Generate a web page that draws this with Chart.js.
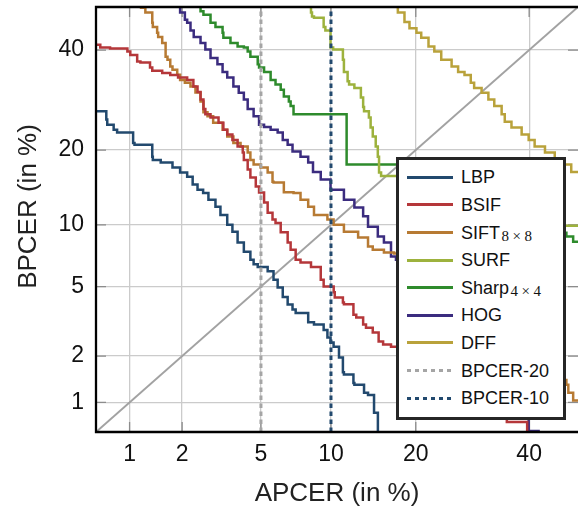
<!DOCTYPE html>
<html>
<head>
<meta charset="utf-8">
<script src="https://cdn.jsdelivr.net/npm/chart.js@4.4.1/dist/chart.umd.min.js"></script>
<style>
  html, body { margin: 0; padding: 0; background: #fff; }
  #wrap { position: relative; width: 578px; height: 512px; overflow: hidden; }
  canvas { display: block; }
  #legend { position: absolute; left: 396px; top: 157px; width: 170px; height: 263px; box-sizing: border-box;
            border: 3px solid #262626; background: #fff; font-family: "Liberation Sans", Arial, sans-serif;
            font-size: 18px; color: #111; }
  .sw { position: absolute; left: 8px; width: 46px; height: 3px; }
  .lbl { position: absolute; left: 62px; height: 20px; line-height: 20px; white-space: nowrap; }
  .sub { font-family: "Liberation Serif", "DejaVu Serif", serif; font-size: 15px; position: relative; top: 2.5px; margin-left: 1.5px; }
  .op { margin: 0 3.5px; }
</style>
</head>
<body>
<div id="wrap">
  <canvas id="c" width="578" height="512"></canvas>
  <div id="legend"></div>
</div>
<script>
// ---------------- data (values in %) ----------------
const AXIS_MIN = 0.62;
const AXIS_MAX = 50;
const TICKS = [1, 2, 5, 10, 20, 40];

// [APCER, BPCER] pairs
const LBP = [[0.6,27.2],[0.72,27.0],[0.73,25.4],[0.80,24.4],[0.84,23.5],[0.91,23.0],[1.05,23.0],[1.07,21.2],[1.36,20.9],[1.37,18.9],[1.52,18.4],[1.77,18.0],[1.95,17.25],[2.13,16.5],[2.28,15.9],[2.42,14.8],[2.59,14.1],[2.76,13.7],[3.0,12.85],[3.18,12.0],[3.44,11.05],[3.65,10.0],[3.87,9.3],[4.15,8.3],[4.46,7.5],[4.62,6.85],[4.83,6.5],[5.37,6.3],[5.71,6.0],[5.96,5.43],[6.28,4.95],[6.6,4.4],[6.93,4.0],[7.15,3.75],[8.08,3.59],[8.54,3.18],[9.35,3.09],[9.68,2.87],[9.96,2.59],[10.24,2.42],[10.75,2.28],[11.13,1.96],[11.23,1.58],[12.2,1.53],[12.3,1.35],[13.35,1.31],[13.8,1.16],[14.5,1.12],[14.96,0.85],[15.2,0.55]];
const BSIF = [[0.6,41.6],[0.66,41.2],[0.76,40.6],[0.97,40.35],[1.01,39.7],[1.11,38.9],[1.16,37.4],[1.32,37.2],[1.36,36.1],[1.55,35.4],[1.72,34.9],[1.9,34.46],[2.13,33.9],[2.30,33.4],[2.42,32.0],[2.51,30.85],[2.6,29.3],[2.66,27.4],[2.83,26.4],[3.11,25.8],[3.29,24.8],[3.44,23.5],[3.65,22.66],[3.87,21.7],[4.1,20.6],[4.15,19.6],[4.33,18.4],[4.46,16.95],[4.73,15.8],[4.9,14.55],[5.17,13.75],[5.37,12.5],[5.65,11.3],[5.83,10.57],[6.15,10.2],[6.6,9.25],[6.8,8.3],[7.15,7.67],[7.5,6.85],[8.3,6.63],[9.1,6.3],[9.35,5.43],[10.25,5.0],[10.35,4.67],[11.13,4.37],[11.23,4.1],[12.2,4.01],[12.5,3.51],[13.25,3.39],[13.57,3.09],[14.35,2.96],[15.05,2.77],[15.6,2.45],[16.6,2.35],[17.8,2.28],[35.6,0.80],[35.6,0.73],[39.6,0.73],[39.6,0.55]];
const SIFT = [[1.17,51],[1.24,49.8],[1.36,48.7],[1.37,46.3],[1.45,45.3],[1.47,44.0],[1.55,43.0],[1.62,41.6],[1.66,38.5],[1.72,37.8],[1.77,36.3],[1.88,35.6],[1.95,34.5],[2.07,33.4],[2.22,32.8],[2.36,32.0],[2.51,30.75],[2.6,28.9],[2.73,26.8],[2.92,26.0],[3.26,24.8],[3.44,23.5],[3.69,22.3],[4.0,21.2],[4.33,20.6],[4.46,19.6],[4.62,18.4],[4.98,17.7],[5.37,17.25],[5.65,16.5],[5.71,15.2],[6.35,15.1],[7.0,13.8],[7.5,13.7],[8.08,12.85],[8.54,12.0],[9.68,11.05],[10.24,10.57],[11.23,10.0],[12.7,9.3],[13.8,8.75],[14.35,7.95],[15.7,7.67],[17.0,7.43],[17.8,7.35],[47.6,1.41],[48.0,1.31],[49.0,1.16],[49.6,1.03],[51,1.03]];
const SURF = [[8.3,51],[8.38,48.7],[8.54,47.8],[9.35,47.5],[9.5,45.3],[9.96,44.5],[10.2,40.6],[11.13,40.1],[11.23,37.8],[11.6,35.1],[11.75,33.1],[12.3,32.4],[13.0,31.7],[13.25,29.7],[13.35,27.8],[13.9,27.0],[14.1,25.8],[14.35,23.9],[14.7,22.3],[14.95,20.6],[15.1,18.9],[15.35,16.5],[15.7,16.0],[17.8,16.0],[47.4,9.9],[50.5,9.9]];
const SHARP = [[2.51,51],[2.6,49.0],[2.83,48.2],[3.0,46.3],[3.26,45.3],[3.29,44.0],[3.57,42.8],[3.87,41.6],[4.15,40.8],[4.33,40.6],[4.46,39.7],[4.83,38.5],[4.9,36.8],[5.17,36.1],[5.54,35.1],[5.83,33.4],[6.15,32.4],[6.35,31.3],[6.68,29.9],[6.8,28.9],[7.0,28.0],[7.0,26.4],[11.5,26.4],[11.5,17.7],[17.8,17.7],[47.6,9.2],[49.0,8.85],[50.3,8.35]];
const HOG = [[1.95,51],[2.07,48.7],[2.13,47.0],[2.22,46.3],[2.31,44.5],[2.51,43.0],[2.66,41.6],[2.83,40.1],[3.07,38.2],[3.26,36.8],[3.44,35.1],[3.69,33.9],[3.92,32.0],[4.15,30.7],[4.33,29.3],[4.62,27.4],[4.9,26.0],[5.17,24.4],[5.54,24.0],[5.96,23.5],[6.28,23.0],[6.6,21.7],[6.93,20.9],[7.5,19.77],[8.08,18.9],[8.46,18.0],[9.1,16.6],[9.96,15.5],[11.23,14.1],[12.3,12.85],[13.25,11.9],[13.8,10.9],[14.95,9.8],[15.7,8.85],[16.6,8.3],[17.25,7.1],[17.8,6.85],[39.9,0.80],[39.9,0.63],[41.9,0.63],[41.9,0.5]];
const DFF = [[17.5,51],[18.4,48.7],[19.1,46.5],[20.1,45.0],[20.8,44.0],[21.9,42.8],[22.8,40.8],[23.9,39.7],[25.6,37.8],[26.7,36.3],[27.8,35.1],[28.9,34.46],[29.5,32.8],[30.85,31.7],[32.1,30.7],[33.2,29.3],[34.6,28.0],[35.2,26.4],[36.5,25.0],[38.5,23.9],[39.9,22.66],[41.1,21.7],[43.2,20.6],[45.2,19.6],[47.2,18.4],[48.6,17.7],[50.4,16.6]];
const BPCER20_APCER = 5;
const BPCER10_APCER = 10;

// ---------------- probit (normal deviate) scale ----------------
function probit(p) {
  const a = [-3.969683028665376e+01, 2.209460984245205e+02, -2.759285104469687e+02, 1.383577518672690e+02, -3.066479806614716e+01, 2.506628277459239e+00];
  const b = [-5.447609879822406e+01, 1.615858368580409e+02, -1.556989798598866e+02, 6.680131188771972e+01, -1.328068155288572e+01];
  const c = [-7.784894002430293e-03, -3.223964580411365e-01, -2.400758277161838e+00, -2.549732539343734e+00, 4.374664141464968e+00, 2.938163982698783e+00];
  const d = [7.784695709041462e-03, 3.224671290700398e-01, 2.445134137142996e+00, 3.754408661907416e+00];
  const pl = 0.02425, ph = 1 - pl;
  let q, r;
  if (p < pl) {
    q = Math.sqrt(-2 * Math.log(p));
    return (((((c[0]*q+c[1])*q+c[2])*q+c[3])*q+c[4])*q+c[5]) / ((((d[0]*q+d[1])*q+d[2])*q+d[3])*q+1);
  }
  if (p <= ph) {
    q = p - 0.5; r = q * q;
    return (((((a[0]*r+a[1])*r+a[2])*r+a[3])*r+a[4])*r+a[5])*q / (((((b[0]*r+b[1])*r+b[2])*r+b[3])*r+b[4])*r+1);
  }
  q = Math.sqrt(-2 * Math.log(1 - p));
  return -(((((c[0]*q+c[1])*q+c[2])*q+c[3])*q+c[4])*q+c[5]) / ((((d[0]*q+d[1])*q+d[2])*q+d[3])*q+1);
}
function normCdf(z) {
  const x = Math.abs(z) / Math.SQRT2;
  const t = 1 / (1 + 0.3275911 * x);
  const e = 1 - (((((1.061405429*t - 1.453152027)*t) + 1.421413741)*t - 0.284496736)*t + 0.254829592)*t*Math.exp(-x*x);
  return z >= 0 ? 0.5 * (1 + e) : 0.5 * (1 - e);
}

class ProbitScale extends Chart.Scale {
  static id = 'probit';
  static defaults = {};
  determineDataLimits() { this.min = this.options.min; this.max = this.options.max; }
  buildTicks() { return TICKS.map(v => ({ value: v })); }
  configure() {
    super.configure();
    this._zMin = probit(this.min / 100);
    this._zMax = probit(this.max / 100);
  }
  getLabelForValue(v) { return String(v); }
  getPixelForValue(v) {
    if (v === null || v === undefined || isNaN(v)) return NaN;
    const p = Math.min(Math.max(v / 100, 1e-9), 1 - 1e-9);
    return this.getPixelForDecimal((probit(p) - this._zMin) / (this._zMax - this._zMin));
  }
  getValueForPixel(px) {
    return 100 * normCdf(this._zMin + this.getDecimalForPixel(px) * (this._zMax - this._zMin));
  }
  drawTitle() {
    const s = this.options.titleShift || 0;
    this.ctx.save();
    this.ctx.translate(0, s);
    super.drawTitle();
    this.ctx.restore();
  }
}
Chart.register(ProbitScale);

// ---------------- chart ----------------
const FONT = '"Liberation Sans", Arial, sans-serif';
const toXY = arr => arr.map(([x, y]) => ({ x, y }));
function curve(label, data, color, sub) {
  return { label, sub, showInLegend: true, data: toXY(data), borderColor: color, backgroundColor: color,
           borderWidth: 2.5, pointRadius: 0, stepped: 'after', fill: false, order: 5 };
}

const framePlugin = {
  id: 'frame',
  beforeDatasetsDraw(chart) {
    const { ctx, chartArea: a, scales: { x, y } } = chart;
    ctx.save();
    ctx.strokeStyle = '#8c8c8c';
    ctx.lineWidth = 1.3;
    ctx.beginPath();
    for (const v of TICKS) {
      const px = x.getPixelForValue(v);
      ctx.moveTo(px, a.bottom); ctx.lineTo(px, a.bottom - 10);
      ctx.moveTo(px, a.top); ctx.lineTo(px, a.top + 10);
      const py = y.getPixelForValue(v);
      ctx.moveTo(a.left, py); ctx.lineTo(a.left + 10, py);
      ctx.moveTo(a.right, py); ctx.lineTo(a.right - 10, py);
    }
    ctx.stroke();
    ctx.restore();
  },
  afterDatasetsDraw(chart) {
    const { ctx, chartArea: a } = chart;
    ctx.save();
    ctx.strokeStyle = '#000';
    ctx.lineWidth = 2.3;
    ctx.beginPath();
    ctx.moveTo(a.right + 2, a.top);
    ctx.lineTo(a.left, a.top);
    ctx.lineTo(a.left, a.bottom);
    ctx.lineTo(a.right + 2, a.bottom);
    ctx.stroke();
    ctx.restore();
  }
};

const chart = new Chart(document.getElementById('c'), {
  type: 'line',
  data: {
    datasets: [
      { label: 'diagonal', showInLegend: false, data: toXY([[AXIS_MIN, AXIS_MIN], [AXIS_MAX, AXIS_MAX]]),
        borderColor: '#a2a2a2', borderWidth: 2, pointRadius: 0, order: 9 },
      curve('LBP', LBP, '#22496e'),
      curve('BSIF', BSIF, '#b5373a'),
      curve('SIFT', SIFT, '#b77a33', '8×8'),
      curve('SURF', SURF, '#9db23d'),
      curve('Sharp', SHARP, '#2e8b2c', '4×4'),
      curve('HOG', HOG, '#3b2c7f'),
      curve('DFF', DFF, '#b9a23b'),
      { label: 'BPCER-20', showInLegend: true, data: toXY([[BPCER20_APCER, AXIS_MIN], [BPCER20_APCER, AXIS_MAX]]),
        borderColor: '#a5a5a5', borderWidth: 3, borderDash: [4.5, 3.5], pointRadius: 0, order: 1 },
      { label: 'BPCER-10', showInLegend: true, data: toXY([[BPCER10_APCER, AXIS_MIN], [BPCER10_APCER, AXIS_MAX]]),
        borderColor: '#22496e', borderWidth: 3, borderDash: [4.5, 3.5], pointRadius: 0, order: 1 }
    ]
  },
  options: {
    responsive: false,
    devicePixelRatio: 1,
    animation: false,
    events: [],
    layout: { padding: { top: 7, right: 0, left: 0, bottom: 0 } },
    plugins: { legend: { display: false }, tooltip: { enabled: false } },
    scales: {
      x: {
        type: 'probit', position: 'bottom', min: AXIS_MIN, max: AXIS_MAX,
        grid: { color: '#cbcbcb', lineWidth: 1.3, drawTicks: false },
        border: { display: false },
        ticks: { font: { family: FONT, size: 23 }, color: '#111', padding: 9, autoSkip: false, maxRotation: 0 },
        title: { display: true, text: 'APCER (in %)', font: { family: FONT, size: 26 }, color: '#222', padding: { top: 0, bottom: 3 } },
        afterFit: s => { s.height = 80; s.paddingLeft = 0; s.paddingRight = 0; }
      },
      y: {
        type: 'probit', position: 'left', min: AXIS_MIN, max: AXIS_MAX,
        grid: { color: '#cbcbcb', lineWidth: 1.3, drawTicks: false },
        border: { display: false },
        ticks: { font: { family: FONT, size: 23 }, color: '#111', padding: 12, autoSkip: false },
        title: { display: true, text: 'BPCER (in %)', font: { family: FONT, size: 26 }, color: '#222', padding: { top: 13, bottom: 0 } },
        titleShift: -13,
        afterFit: s => { s.width = 96; s.paddingTop = 0; s.paddingBottom = 0; }
      }
    }
  },
  plugins: [framePlugin]
});

// ---------------- HTML legend (for subscripts) ----------------
const legendEl = document.getElementById('legend');
let row = 0;
for (const d of chart.data.datasets) {
  if (!d.showInLegend) continue;
  const cy = 17.3 + row * 27.6;
  const sw = document.createElement('div');
  sw.className = 'sw';
  sw.style.top = (cy - 1.5) + 'px';
  sw.style.background = d.borderDash
    ? `repeating-linear-gradient(to right, ${d.borderColor} 0 4.5px, transparent 4.5px 8px)`
    : d.borderColor;
  const lb = document.createElement('div');
  lb.className = 'lbl';
  lb.style.top = (cy - 10) + 'px';
  lb.appendChild(document.createTextNode(d.label));
  if (d.sub) {
    const [a, b] = d.sub.split('×');
    const s = document.createElement('span');
    s.className = 'sub';
    s.appendChild(document.createTextNode(a));
    const op = document.createElement('span');
    op.className = 'op';
    op.textContent = '×';
    s.appendChild(op);
    s.appendChild(document.createTextNode(b));
    lb.appendChild(s);
  }
  legendEl.appendChild(sw);
  legendEl.appendChild(lb);
  row++;
}
</script>
</body>
</html>
